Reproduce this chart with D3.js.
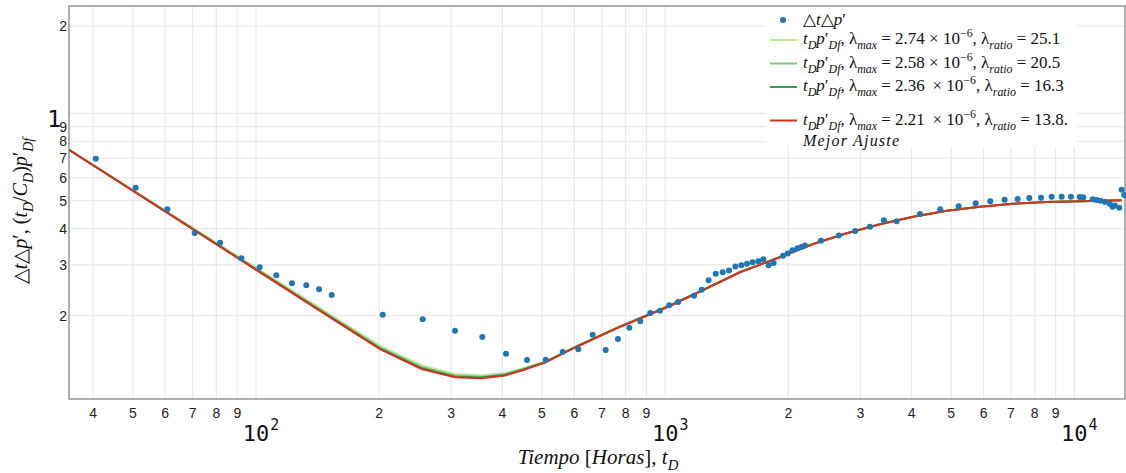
<!DOCTYPE html>
<html><head><meta charset="utf-8">
<script src="https://cdn.jsdelivr.net/npm/d3@7"></script>
<style>body{margin:0;background:#fff}</style>
</head><body><svg id="c" width="1126" height="473"></svg>
<script>
// ---------- data ----------
const tData=[40.6,50.8,60.7,70.8,81.7,92.1,102.1,112.1,122.4,132.7,142.6,153.1,204,255.5,306.4,357.3,408.3,459.5,510.5,561.6,613.3,665,715.4,766.7,817.2,869.1,919.5,971.2,1023,1075,1176,1228,1277,1329,1382,1432,1484,1535,1585,1636,1689,1737,1790,1841,1941,1993,2047,2105,2151,2196,2403,2658,2912,3166,3424,3679,4195,4702,5215,5739,6229,6755,7268,7760,8288,8801,9311,9811,10300,10515,11085,11336,11595,11878,12218,12405,12566,12873,13049,13243];
const dpData=[6.97,5.53,4.66,3.86,3.57,3.16,2.94,2.76,2.59,2.55,2.47,2.36,2.016,1.944,1.776,1.689,1.479,1.406,1.410,1.499,1.531,1.720,1.523,1.662,1.818,1.913,2.044,2.082,2.173,2.230,2.346,2.460,2.650,2.793,2.827,2.866,2.958,2.987,3.023,3.059,3.083,3.133,2.987,3.042,3.221,3.280,3.365,3.419,3.454,3.496,3.629,3.784,3.923,4.059,4.271,4.237,4.490,4.661,4.774,4.889,4.968,5.03,5.06,5.10,5.11,5.15,5.15,5.15,5.14,5.13,5.05,5.02,4.99,4.94,4.86,4.76,4.80,4.72,5.44,5.22];

const tModel=[34.9,154.5,200.9,254.1,306.4,356.1,406,450,508.6,607.8,761.1,1027,1217,1524,1908,2301,2777,3349,4039,4876,5881,7089,8557,10320,13049];
const mLight=[7.50,1.985,1.574,1.346,1.258,1.245,1.268,1.318,1.392,1.572,1.815,2.166,2.425,2.829,3.186,3.539,3.852,4.136,4.393,4.607,4.755,4.870,4.936,4.964,5.004];
const mMid  =[7.49,1.965,1.556,1.330,1.243,1.232,1.257,1.309,1.385,1.568,1.813,2.165,2.425,2.829,3.186,3.540,3.853,4.137,4.394,4.608,4.756,4.872,4.938,4.966,5.006];
const mDark =[7.485,1.952,1.543,1.318,1.233,1.223,1.250,1.304,1.382,1.568,1.815,2.169,2.430,2.834,3.190,3.542,3.855,4.139,4.396,4.610,4.758,4.874,4.940,4.968,5.008];
const mBest =[7.48,1.944,1.534,1.310,1.226,1.216,1.244,1.299,1.377,1.563,1.809,2.161,2.421,2.826,3.184,3.538,3.852,4.137,4.395,4.610,4.758,4.874,4.940,4.968,5.008];

const xMinorTicks=[40,50,60,70,80,90,200,300,400,500,600,700,800,900,2000,3000,4000,5000,6000,7000,8000,9000];
const xMinorLabels=["4","5","6","7","8","9","2","3","4","5","6","7","8","9","2","3","4","5","6","7","8","9"];
const xMajorTicks=[100,1000,10000];
const xMajorExp=["2","3","4"];
const yMinorTicks=[2,3,4,5,6,7,8,9,20];
const yMinorLabels=["2","3","4","5","6","7","8","9","2"];
const yMajorTicks=[10];
const yMajorLabels=["1"];

const lambdaMax=["2.74","2.58","2.36\u2009","2.21\u2009"];
const lambdaRatio=["25.1","20.5","16.3","13.8."];
const seriesColors=["#c2e699","#7fc97f","#2e9e4f","#d7301f"];

// ---------- layout ----------
const L=69,R=1125,T=6,B=399;
const svg=d3.select("#c");
const x=d3.scaleLog().domain([34.91,13298]).range([L,R]);
const y=d3.scaleLog().domain([1.0315,23.47]).range([B,T]);

svg.append("rect").attr("width",1126).attr("height",473).attr("fill","#fff");

// grid
const grid=svg.append("g").attr("stroke","#ebebeb").attr("stroke-width",1.3);
grid.selectAll("line.gx").data(xMinorTicks.concat(xMajorTicks)).join("line")
  .attr("x1",d=>x(d)).attr("x2",d=>x(d)).attr("y1",T).attr("y2",B);
grid.selectAll("line.gy").data(yMinorTicks.concat(yMajorTicks)).join("line")
  .attr("y1",d=>y(d)).attr("y2",d=>y(d)).attr("x1",L).attr("x2",R);

// frame
svg.append("rect").attr("x",L).attr("y",T).attr("width",R-L).attr("height",B-T)
  .attr("fill","none").attr("stroke","#858585").attr("stroke-width",1.3);

svg.append("clipPath").attr("id","clp").append("rect").attr("x",L).attr("y",T).attr("width",R-L).attr("height",B-T);

// model lines
const line=d3.line().x(d=>x(d[0])).y(d=>y(d[1]));
[mLight,mMid,mDark,mBest].forEach((arr,i)=>{
  svg.append("path").attr("clip-path","url(#clp)")
    .attr("d",line(tModel.map((t,j)=>[t,arr[j]])))
    .attr("fill","none").attr("stroke",seriesColors[i]).attr("stroke-width",2);
});

// scatter
svg.append("g").selectAll("circle").data(tData.map((t,i)=>[t,dpData[i]])).join("circle")
  .attr("cx",d=>x(d[0])).attr("cy",d=>y(d[1])).attr("r",3).attr("fill","#1f77b4");

// x tick labels
svg.append("g").selectAll("text").data(xMinorTicks).join("text")
  .attr("x",d=>x(d)).attr("y",418).attr("text-anchor","middle")
  .attr("font-family","Liberation Sans, Arial, sans-serif").attr("font-size",14).attr("fill","#222")
  .text((d,i)=>xMinorLabels[i]);
xMajorTicks.forEach((t,i)=>{
  const tx=svg.append("text").attr("x",x(t)).attr("y",441).attr("text-anchor","middle")
    .attr("font-family","DejaVu Sans Mono, monospace").attr("font-size",22).attr("fill","#111").text("10");
  const w=tx.node().getComputedTextLength();
  svg.append("text").attr("x",x(t)+w/2+1).attr("y",430)
    .attr("font-family","DejaVu Sans Mono, monospace").attr("font-size",15).attr("fill","#111").text(xMajorExp[i]);
});

// y tick labels
svg.append("g").selectAll("text").data(yMinorTicks).join("text")
  .attr("x",67).attr("y",d=>y(d)).attr("dy","0.36em").attr("text-anchor","end")
  .attr("font-family","Liberation Sans, Arial, sans-serif").attr("font-size",14).attr("fill","#222")
  .text((d,i)=>yMinorLabels[i]);
svg.append("g").selectAll("text").data(yMajorTicks).join("text")
  .attr("x",61).attr("y",d=>y(d)+14).attr("text-anchor","end")
  .attr("font-family","DejaVu Sans Mono, monospace").attr("font-size",23).attr("fill","#111")
  .text((d,i)=>yMajorLabels[i]);

// rich text helper
const SERIF="Liberation Serif, Times New Roman, serif";
function rich(sel,segs,size){
  let cur=0;
  segs.forEach(s=>{
    const shift = s.p==="sub"? size*0.3 : s.p==="sup"? -size*0.4 : 0;
    sel.append("tspan").attr("dy",shift-cur)
      .attr("font-size", s.p? size*0.7 : size)
      .attr("font-style", s.i? "italic":"normal").text(s.t);
    cur=shift;
  });
}

// axis titles
const xt=svg.append("text").attr("x",598).attr("y",464).attr("text-anchor","middle")
  .attr("font-family",SERIF).attr("font-size",21).attr("fill","#111");
rich(xt,[{t:"Tiempo ",i:1},{t:"["},{t:"Horas",i:1},{t:"], "},{t:"t",i:1},{t:"D",i:1,p:"sub"}],21);

const yt=svg.append("text").attr("transform","translate(27,211) rotate(-90)").attr("text-anchor","middle")
  .attr("font-family",SERIF).attr("font-size",20).attr("fill","#111");
rich(yt,[{t:"△"},{t:"t",i:1},{t:"△"},{t:"p",i:1},{t:"′"},{t:", ("},{t:"t",i:1},{t:"D",i:1,p:"sub"},{t:"/"},{t:"C",i:1},{t:"D",i:1,p:"sub"},{t:")"},{t:"p",i:1},{t:"′"},{t:"Df",i:1,p:"sub"}],20);

// legend
svg.append("rect").attr("x",766).attr("y",7).attr("width",311).attr("height",140).attr("fill","#fff");
svg.append("circle").attr("cx",783).attr("cy",20).attr("r",3).attr("fill","#1f77b4");
const l0=svg.append("text").attr("x",803).attr("y",25).attr("font-family",SERIF).attr("font-size",17).attr("fill","#111");
rich(l0,[{t:"△"},{t:"t",i:1},{t:"△"},{t:"p",i:1},{t:"′"}],17);
const legY=[40,63.5,87,120.5];
legY.forEach((ly,i)=>{
  svg.append("line").attr("x1",770).attr("x2",797).attr("y1",ly).attr("y2",ly)
    .attr("stroke",seriesColors[i]).attr("stroke-width",2);
  const tx=svg.append("text").attr("x",803).attr("y",ly+4).attr("font-family",SERIF).attr("font-size",17).attr("fill","#111");
  rich(tx,[{t:"t",i:1},{t:"D",i:1,p:"sub"},{t:"p",i:1},{t:"′"},{t:"Df",i:1,p:"sub"},{t:", λ"},{t:"max",i:1,p:"sub"},
    {t:" = "+lambdaMax[i]+" × 10"},{t:"−6",p:"sup"},{t:", λ"},{t:"ratio",i:1,p:"sub"},{t:" = "+lambdaRatio[i]}],17);
});
svg.append("text").attr("x",803).attr("y",146).attr("font-family",SERIF).attr("font-size",16)
  .attr("font-style","italic").attr("letter-spacing",1.2).attr("fill","#111").text("Mejor Ajuste");
</script></body></html>
